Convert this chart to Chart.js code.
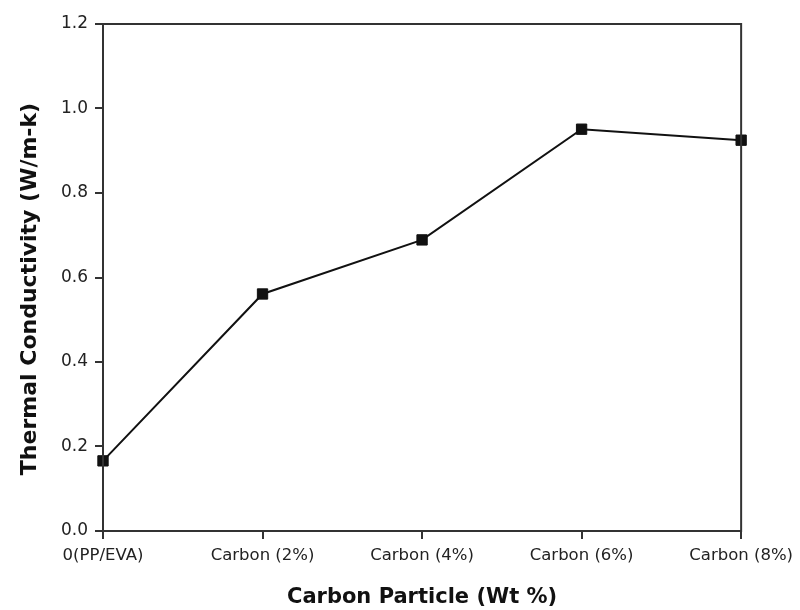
<!DOCTYPE html>
<html>
<head>
<meta charset="utf-8">
<script src="https://cdn.jsdelivr.net/npm/chart.js@4/dist/chart.umd.min.js"></script>
<style>
html,body{margin:0;padding:0;background:#fff;}
#wrap{width:800px;height:610px;position:relative;}
</style>
</head>
<body>
<div id="wrap"><canvas id="c" width="800" height="610"></canvas></div>
<script>
const categories = ["0(PP/EVA)", "Carbon (2%)", "Carbon (4%)", "Carbon (6%)", "Carbon (8%)"];
const conductivity = [0.166, 0.561, 0.689, 0.951, 0.925];
const yTicks = [0, 0.2, 0.4, 0.6, 0.8, 1.0, 1.2];

const frame = {
  id: 'frame',
  afterDatasetsDraw(chart) {
    const a = chart.chartArea, ctx = chart.ctx;
    ctx.save();
    ctx.strokeStyle = '#333';
    ctx.lineWidth = 2;
    ctx.strokeRect(a.left, a.top, a.right - a.left, a.bottom - a.top);
    ctx.restore();
  }
};

const FAM = 'DejaVu Sans, Arial, sans-serif';

new Chart(document.getElementById('c'), {
  type: 'line',
  data: {
    labels: categories,
    datasets: [{
      data: conductivity,
      borderColor: '#111',
      borderWidth: 2,
      backgroundColor: '#111',
      pointBorderColor: '#111',
      pointBorderWidth: 1,
      pointStyle: 'rect',
      pointRadius: 7.3,
      pointHoverRadius: 7.3,
      tension: 0,
      clip: false
    }]
  },
  options: {
    responsive: false,
    animation: false,
    layout: { padding: { top: 24, right: 58, left: 0, bottom: 0 } },
    plugins: { legend: { display: false }, tooltip: { enabled: false } },
    scales: {
      x: {
        type: 'category',
        offset: false,
        grid: { display: true, drawOnChartArea: false, drawTicks: true, tickLength: 8, color: '#333', lineWidth: 2 },
        border: { display: true, color: '#333', width: 2 },
        ticks: { color: '#222', font: { family: FAM, size: 16.5 }, padding: 7, maxRotation: 0, autoSkip: false },
        title: { display: true, text: 'Carbon Particle (Wt %)', color: '#111', font: { family: FAM, size: 21, weight: 'bold' }, padding: { top: 0, bottom: 0 } },
        afterFit(s) { s.height = 79; }
      },
      y: {
        min: 0, max: 1.2,
        afterBuildTicks(s) { s.ticks = yTicks.map(v => ({ value: v })); },
        grid: { display: true, drawOnChartArea: false, drawTicks: true, tickLength: 8, color: '#333', lineWidth: 2 },
        border: { display: true, color: '#333', width: 2 },
        ticks: { color: '#222', font: { family: FAM, size: 17 }, padding: 7, callback: v => Number(v).toFixed(1) },
        title: { display: true, text: 'Thermal Conductivity (W/m-k)   ', color: '#111', font: { family: FAM, size: 22, weight: 'bold' }, padding: { top: 17, bottom: 0 } },
        afterFit(s) { s.width = 103; }
      }
    }
  },
  plugins: [frame]
});
</script>
</body>
</html>
